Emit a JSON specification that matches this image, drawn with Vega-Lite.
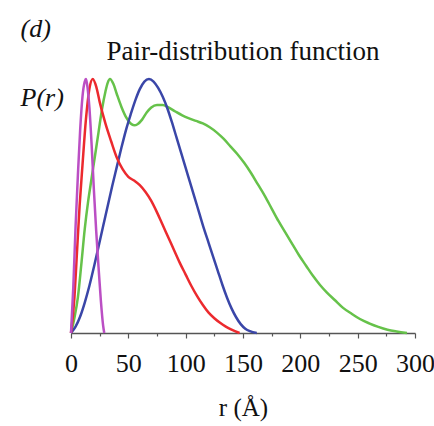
{
  "$schema": "https://vega.github.io/schema/vega-lite/v6.json",
  "autosize": {"type": "none"},
  "padding": {"left": 71, "top": 79, "right": 19, "bottom": 93},
  "width": 344,
  "height": 254,
  "background": "white",
  "title": {"text": "Pair-distribution function", "font": "Liberation Serif", "fontSize": 27, "fontWeight": "normal", "color": "#111", "anchor": "middle", "frame": "group", "offset": 0, "dy": 51},
  "config": {"view": {"stroke": null}},
  "data": {"values": [
    {"s": "green", "r": 0, "p": 0}, {"s": "green", "r": 3, "p": 0.06}, {"s": "green", "r": 6, "p": 0.14}, {"s": "green", "r": 9, "p": 0.27}, {"s": "green", "r": 12, "p": 0.41}, {"s": "green", "r": 15, "p": 0.52}, {"s": "green", "r": 18, "p": 0.61}, {"s": "green", "r": 21, "p": 0.7}, {"s": "green", "r": 24, "p": 0.79}, {"s": "green", "r": 27, "p": 0.88}, {"s": "green", "r": 30, "p": 0.95}, {"s": "green", "r": 32, "p": 0.985}, {"s": "green", "r": 34, "p": 1.0}, {"s": "green", "r": 37, "p": 0.98}, {"s": "green", "r": 40, "p": 0.94}, {"s": "green", "r": 44, "p": 0.89}, {"s": "green", "r": 48, "p": 0.85}, {"s": "green", "r": 52, "p": 0.825}, {"s": "green", "r": 55, "p": 0.818}, {"s": "green", "r": 58, "p": 0.822}, {"s": "green", "r": 62, "p": 0.84}, {"s": "green", "r": 66, "p": 0.868}, {"s": "green", "r": 70, "p": 0.888}, {"s": "green", "r": 75, "p": 0.898}, {"s": "green", "r": 80, "p": 0.898}, {"s": "green", "r": 85, "p": 0.888}, {"s": "green", "r": 91, "p": 0.872}, {"s": "green", "r": 97, "p": 0.857}, {"s": "green", "r": 103, "p": 0.845}, {"s": "green", "r": 109, "p": 0.835}, {"s": "green", "r": 115, "p": 0.825}, {"s": "green", "r": 121, "p": 0.81}, {"s": "green", "r": 127, "p": 0.79}, {"s": "green", "r": 133, "p": 0.765}, {"s": "green", "r": 139, "p": 0.735}, {"s": "green", "r": 145, "p": 0.705}, {"s": "green", "r": 151, "p": 0.67}, {"s": "green", "r": 157, "p": 0.63}, {"s": "green", "r": 163, "p": 0.585}, {"s": "green", "r": 169, "p": 0.54}, {"s": "green", "r": 175, "p": 0.49}, {"s": "green", "r": 181, "p": 0.44}, {"s": "green", "r": 187, "p": 0.395}, {"s": "green", "r": 193, "p": 0.35}, {"s": "green", "r": 199, "p": 0.305}, {"s": "green", "r": 205, "p": 0.265}, {"s": "green", "r": 211, "p": 0.225}, {"s": "green", "r": 217, "p": 0.19}, {"s": "green", "r": 223, "p": 0.16}, {"s": "green", "r": 230, "p": 0.13}, {"s": "green", "r": 237, "p": 0.1}, {"s": "green", "r": 245, "p": 0.075}, {"s": "green", "r": 252, "p": 0.055}, {"s": "green", "r": 260, "p": 0.038}, {"s": "green", "r": 268, "p": 0.024}, {"s": "green", "r": 276, "p": 0.013}, {"s": "green", "r": 284, "p": 0.006}, {"s": "green", "r": 293, "p": 0.0},
    {"s": "blue", "r": 0, "p": 0}, {"s": "blue", "r": 4, "p": 0.025}, {"s": "blue", "r": 8, "p": 0.065}, {"s": "blue", "r": 12, "p": 0.12}, {"s": "blue", "r": 16, "p": 0.185}, {"s": "blue", "r": 20, "p": 0.26}, {"s": "blue", "r": 24, "p": 0.34}, {"s": "blue", "r": 28, "p": 0.42}, {"s": "blue", "r": 32, "p": 0.5}, {"s": "blue", "r": 36, "p": 0.58}, {"s": "blue", "r": 40, "p": 0.655}, {"s": "blue", "r": 44, "p": 0.73}, {"s": "blue", "r": 48, "p": 0.8}, {"s": "blue", "r": 52, "p": 0.86}, {"s": "blue", "r": 56, "p": 0.915}, {"s": "blue", "r": 60, "p": 0.96}, {"s": "blue", "r": 64, "p": 0.99}, {"s": "blue", "r": 68, "p": 1.0}, {"s": "blue", "r": 72, "p": 0.99}, {"s": "blue", "r": 76, "p": 0.965}, {"s": "blue", "r": 80, "p": 0.93}, {"s": "blue", "r": 84, "p": 0.885}, {"s": "blue", "r": 88, "p": 0.83}, {"s": "blue", "r": 92, "p": 0.77}, {"s": "blue", "r": 96, "p": 0.71}, {"s": "blue", "r": 100, "p": 0.65}, {"s": "blue", "r": 104, "p": 0.59}, {"s": "blue", "r": 108, "p": 0.53}, {"s": "blue", "r": 112, "p": 0.47}, {"s": "blue", "r": 116, "p": 0.41}, {"s": "blue", "r": 120, "p": 0.355}, {"s": "blue", "r": 124, "p": 0.3}, {"s": "blue", "r": 128, "p": 0.245}, {"s": "blue", "r": 132, "p": 0.19}, {"s": "blue", "r": 136, "p": 0.14}, {"s": "blue", "r": 140, "p": 0.097}, {"s": "blue", "r": 144, "p": 0.062}, {"s": "blue", "r": 148, "p": 0.035}, {"s": "blue", "r": 152, "p": 0.017}, {"s": "blue", "r": 156, "p": 0.007}, {"s": "blue", "r": 162, "p": 0.0},
    {"s": "red", "r": 0, "p": 0}, {"s": "red", "r": 3, "p": 0.14}, {"s": "red", "r": 5, "p": 0.3}, {"s": "red", "r": 7.5, "p": 0.5}, {"s": "red", "r": 10, "p": 0.66}, {"s": "red", "r": 13, "p": 0.84}, {"s": "red", "r": 16, "p": 0.96}, {"s": "red", "r": 19, "p": 1.0}, {"s": "red", "r": 22, "p": 0.97}, {"s": "red", "r": 25, "p": 0.91}, {"s": "red", "r": 30, "p": 0.825}, {"s": "red", "r": 35, "p": 0.755}, {"s": "red", "r": 40, "p": 0.69}, {"s": "red", "r": 45, "p": 0.645}, {"s": "red", "r": 50, "p": 0.615}, {"s": "red", "r": 55, "p": 0.6}, {"s": "red", "r": 60, "p": 0.582}, {"s": "red", "r": 65, "p": 0.555}, {"s": "red", "r": 70, "p": 0.52}, {"s": "red", "r": 75, "p": 0.475}, {"s": "red", "r": 80, "p": 0.425}, {"s": "red", "r": 85, "p": 0.375}, {"s": "red", "r": 90, "p": 0.325}, {"s": "red", "r": 95, "p": 0.275}, {"s": "red", "r": 100, "p": 0.23}, {"s": "red", "r": 105, "p": 0.185}, {"s": "red", "r": 110, "p": 0.145}, {"s": "red", "r": 115, "p": 0.11}, {"s": "red", "r": 120, "p": 0.08}, {"s": "red", "r": 125, "p": 0.058}, {"s": "red", "r": 130, "p": 0.04}, {"s": "red", "r": 135, "p": 0.025}, {"s": "red", "r": 140, "p": 0.013}, {"s": "red", "r": 147, "p": 0},
    {"s": "magenta", "r": 0, "p": 0}, {"s": "magenta", "r": 2, "p": 0.18}, {"s": "magenta", "r": 4, "p": 0.42}, {"s": "magenta", "r": 6, "p": 0.62}, {"s": "magenta", "r": 8, "p": 0.8}, {"s": "magenta", "r": 10, "p": 0.93}, {"s": "magenta", "r": 12, "p": 0.99}, {"s": "magenta", "r": 13, "p": 1.0}, {"s": "magenta", "r": 14, "p": 0.98}, {"s": "magenta", "r": 16, "p": 0.89}, {"s": "magenta", "r": 18, "p": 0.74}, {"s": "magenta", "r": 20, "p": 0.56}, {"s": "magenta", "r": 22, "p": 0.4}, {"s": "magenta", "r": 24, "p": 0.26}, {"s": "magenta", "r": 26, "p": 0.13}, {"s": "magenta", "r": 28, "p": 0.03}, {"s": "magenta", "r": 29, "p": 0}
  ]},
  "mark": {"type": "line", "strokeWidth": 2.5, "interpolate": "monotone", "clip": false},
  "encoding": {
    "x": {"field": "r", "type": "quantitative", "scale": {"domain": [0, 300], "nice": false},
      "axis": {"values": [0, 25, 50, 75, 100, 125, 150, 175, 200, 225, 250, 275, 300],
        "labelExpr": "datum.value % 50 === 0 ? datum.label : ''",
        "labelFont": "Liberation Serif", "labelFontSize": 26, "labelColor": "#111", "labelPadding": 12, "labelFlush": false,
        "domainColor": "#555", "domainWidth": 1.5,
        "tickColor": "#555", "tickWidth": 1.2,
        "tickSize": {"condition": {"test": "datum.value % 50 === 0", "value": 5}, "value": 3},
        "grid": false,
        "title": "r (Å)", "titleFont": "Liberation Serif", "titleFontSize": 25, "titleFontWeight": "normal", "titleColor": "#111", "titlePadding": 19}},
    "y": {"field": "p", "type": "quantitative", "scale": {"domain": [0, 1], "nice": false},
      "axis": {"domain": false, "ticks": false, "labels": false, "grid": false,
        "title": ["(d)", "P(r)"], "titleAngle": 0, "titleAlign": "left", "titleBaseline": "alphabetic",
        "titleX": -51, "titleY": -43, "titleLineHeight": 69,
        "titleFont": "Liberation Serif", "titleFontStyle": "italic", "titleFontWeight": "normal", "titleFontSize": 26, "titleColor": "#111"}},
    "color": {"field": "s", "type": "nominal", "legend": null,
      "scale": {"domain": ["green", "blue", "red", "magenta"], "range": ["#66c24a", "#3a46a8", "#ec2a2e", "#bb4fc4"]}},
    "order": {"field": "r", "type": "quantitative"}
  }
}
